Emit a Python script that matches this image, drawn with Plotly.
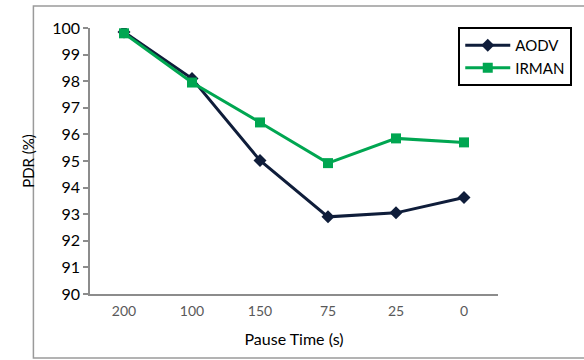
import plotly.graph_objects as go

categories = ["200", "100", "150", "75", "25", "0"]
aodv = [99.85, 98.1, 95.02, 92.9, 93.05, 93.63]
irman = [99.8, 97.95, 96.45, 94.92, 95.85, 95.7]
y_ticks = list(range(90, 101))

fig = go.Figure()
fig.add_trace(go.Scatter(
    x=categories, y=aodv, name="AODV", mode="lines+markers",
    line=dict(color="#0f1d3a", width=3),
    marker=dict(symbol="diamond", size=10, color="#0f1d3a"),
))
fig.add_trace(go.Scatter(
    x=categories, y=irman, name="IRMAN", mode="lines+markers",
    line=dict(color="#00a651", width=3),
    marker=dict(symbol="square", size=10, color="#00a651"),
))

font_family = "Lato, Open Sans, sans-serif"

fig.update_layout(
    width=584, height=360,
    margin=dict(l=90, r=82, t=28, b=66),
    paper_bgcolor="white", plot_bgcolor="white",
    font=dict(family=font_family, color="black"),
    showlegend=True,
    legend=dict(
        x=1.182, y=1.004, xanchor="right", yanchor="top",
        xref="paper", yref="paper",
        bordercolor="black", borderwidth=2,
        font=dict(size=15, color="black", family=font_family),
        bgcolor="white", tracegroupgap=0, itemwidth=45,
    ),
    xaxis=dict(
        type="category", range=[-0.5, 5.5],
        showline=True, linecolor="#8c8c8c", linewidth=1.5,
        ticks="", showgrid=False, zeroline=False,
        tickfont=dict(size=14, color="#595959"),
        ticklabelstandoff=3,
        title=dict(text="Pause Time (s)", font=dict(size=16, color="black"), standoff=16),
    ),
    yaxis=dict(
        range=[90, 100], tickvals=y_ticks,
        showline=True, linecolor="#8c8c8c", linewidth=1.5,
        ticks="outside", ticklen=5, tickcolor="#8c8c8c", tickwidth=1.5,
        showgrid=False, zeroline=False,
        tickfont=dict(size=16, color="black"),
        title=dict(text="PDR (%)", font=dict(size=15, color="black"), standoff=14),
    ),
    shapes=[
        dict(type="rect", xref="paper", yref="paper",
             x0=-0.1387, x1=1.5, y0=-0.2406, y1=1.0827,
             line=dict(color="#9a9a9a", width=1.5), fillcolor="rgba(0,0,0,0)",
             layer="below"),
    ],
)

fig.write_html("out.html")
